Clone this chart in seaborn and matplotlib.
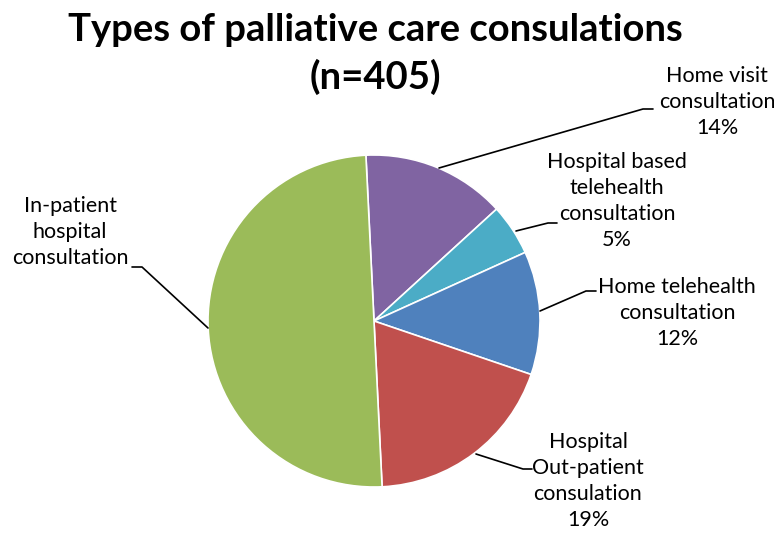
import matplotlib
matplotlib.use("Agg")
import matplotlib.pyplot as plt
import seaborn as sns

# Data
categories = ["Home visit\nconsultation", "Hospital based\ntelehealth\nconsultation",
              "Home telehealth\nconsultation", "Hospital\nOut-patient\nconsulation",
              "In-patient\nhospital\nconsultation"]
percents = [14, 5, 12, 19, 50]
show_pct = [True, True, True, True, False]
colors = ["#8064A2", "#4BACC6", "#4F81BD", "#C0504D", "#9BBB59"]
title_text = "Types of palliative care consulations\n(n=405)"

sns.set_theme(style="white")
plt.rcParams["font.family"] = ["Lato", "DejaVu Sans"]

W, H = 774, 535
fig = plt.figure(figsize=(W / 100, H / 100), dpi=100)
ax = fig.add_axes([0, 0, 1, 1])

cx, cy, r = 374, H - 321, 166
ax.pie(percents, colors=colors, startangle=92.8, counterclock=False,
       center=(cx, cy), radius=r, frame=True,
       wedgeprops=dict(edgecolor="white", linewidth=1.2))
ax.set_xlim(0, W)
ax.set_ylim(0, H)
ax.set_aspect("equal")
ax.axis("off")

# label layout: (text center x, block center y px, leader points in px)
layout = [
    (717, 102, [(439, 168), (643, 109), (653, 109)]),
    (617, 201, [(516, 231), (548, 223), (557, 223)]),
    (677, 313, [(540, 311), (586, 291), (596, 291)]),
    (588, 481, [(476, 454), (523, 469), (532, 469)]),
    (70, 232, [(208, 328), (142, 267), (132, 267)]),
]
for cat, pct, show, (tx, ty, pts) in zip(categories, percents, show_pct, layout):
    txt = cat + (f"\n{pct}%" if show else "")
    ax.text(tx, H - ty, txt, ha="center", va="center", fontsize=15.5,
            linespacing=1.38, color="black")
    ax.plot([p[0] for p in pts], [H - p[1] for p in pts], color="black", lw=1.2)

ax.text(375, H - 54, title_text, ha="center", va="center", fontsize=27.5,
        fontweight="bold", linespacing=1.38, color="black")

fig.savefig("out.png", dpi=100, facecolor="white")
